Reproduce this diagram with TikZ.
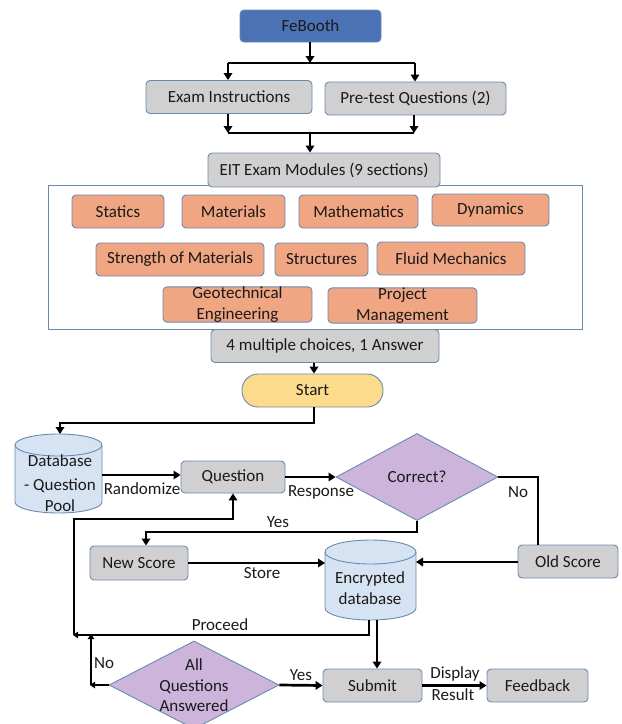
\documentclass[tikz,border=0pt]{standalone}
\usepackage{fontspec}
\setmainfont{Carlito}
\usetikzlibrary{arrows.meta,shapes.geometric,calc}
\definecolor{bordc}{HTML}{6A8AB0}
\definecolor{grayf}{HTML}{D0D0D0}
\definecolor{salmon}{HTML}{F0A583}
\definecolor{blueb}{HTML}{4A72B5}
\definecolor{startf}{HTML}{FDDB8D}
\definecolor{purp}{HTML}{CCB4DA}
\definecolor{dbf}{HTML}{D6E3F3}
\definecolor{txt}{HTML}{1A1A1A}
\tikzset{
  box/.style={draw=bordc,line width=0.9pt,rounded corners=4pt,fill=grayf,text=txt,
    minimum height=33pt,inner sep=0pt,align=center},
  modbox/.style={box,fill=salmon,font=\fontsize{17}{20.5}\selectfont},
  dia/.style={draw=bordc,line width=0.9pt,fill=purp,shape=diamond,inner sep=0pt},
  lbl/.style={inner sep=0pt,text=txt},
  conn/.style={line width=2.7pt,black},
  arr/.style={conn,-{Triangle[length=7pt,width=8.5pt]}},
  sarr/.style={conn,-{Triangle[length=5pt,width=6.5pt]}},
}
\begin{document}
\begin{tikzpicture}[x=1pt,y=1pt,font=\fontsize{17}{19}\selectfont]
\useasboundingbox (0,0) rectangle (622,-724);
% top section
\node[box,fill=blueb,minimum width=141pt,minimum height=32pt] (febooth) at (310.5,-26) {FeBooth};
\node[box,minimum width=166pt] (examins) at (229,-97) {Exam Instructions};
\node[box,minimum width=181pt] (pretest) at (415.5,-98.5) {Pre-test Questions (2)};
\draw[bordc,line width=1pt] (48,-185) rectangle (582,-329);
\node[box,minimum width=232pt,minimum height=34pt] (eit) at (324,-170) {EIT Exam Modules (9 sections)};
\coordinate (s1) at (310,-63);
\coordinate (s1l) at (228,-63);
\coordinate (s1r) at (415,-63);
\draw[arr] (febooth.south -| s1) -- (s1);
\draw[conn] (s1l) -- (s1r);
\draw[arr] (s1l) -- (s1l |- examins.north);
\draw[arr] (s1r) -- (s1r |- pretest.north);
\coordinate (s2) at (310,-133);
\coordinate (s2l) at (228,-133);
\coordinate (s2r) at (414,-133);
\draw[arr] (s2l |- examins.south) -- (s2l);
\draw[arr] (s2r |- pretest.south) -- (s2r);
\draw[conn] (s2l) -- (s2r);
\draw[arr] (s2) -- (s2 |- eit.north);
% modules
\node[modbox,minimum width=92pt] (statics) at (118,-211.5) {Statics};
\node[modbox,minimum width=103pt] (materials) at (233.5,-211.5) {Materials};
\node[modbox,minimum width=119pt] (math) at (358.5,-211.5) {Mathematics};
\node[modbox,minimum width=117pt,minimum height=32pt] (dynamics) at (490.5,-210) {Dynamics};
\node[modbox,minimum width=168pt] (strength) at (180,-259.5) {Strength of Materials};
\node[modbox,minimum width=93pt] (structures) at (321.5,-259.5) {Structures};
\node[modbox,minimum width=148pt] (fluid) at (451,-258.5) {Fluid Mechanics};
\node[modbox,minimum width=149pt] (geo) at (237.5,-304.5) {Geotechnical\\Engineering};
\node[modbox,minimum width=149pt,minimum height=35pt] (project) at (402.5,-305.5) {Project\\Management};
% middle
\node[box,minimum width=228pt] (mc) at (325,-346) {4 multiple choices, 1 Answer};
\node[box,fill=startf,minimum width=141pt,rounded corners=16pt] (start) at (312.5,-390.5) {Start};
\coordinate (st) at (314,-423);
\draw[arr] (st |- mc.south) -- (st |- start.north);
% database cylinder
\node[lbl,minimum width=87pt,minimum height=80pt] (db) at (58.5,-473.5) {};
\fill[dbf] (15,-445) -- (15,-502) arc (180:360:43.5pt and 11pt) -- (102,-445) arc (0:180:43.5pt and 11pt) -- cycle;
\draw[bordc,line width=0.9pt] (15,-445) -- (15,-502) arc (180:360:43.5pt and 11pt) -- (102,-445) arc (0:180:43.5pt and 11pt) -- cycle;
\draw[bordc,line width=0.9pt] (15,-445) arc (180:360:43.5pt and 11pt);
\node[lbl,align=center,font=\fontsize{17}{21}\selectfont] (dbtext) at (60,-483) {Database\\[3pt]- Question\\Pool};
\coordinate (dbtop) at (60,-434);
\coordinate (dbcorner) at (60,-423);
\draw[arr] (start.south -| st) -- (st) -- (dbcorner) -- (dbtop);
\node[box,minimum width=104pt,minimum height=32pt] (question) at (233,-477) {Question};
\coordinate (dbeast) at (102,-475);
\draw[arr] (dbeast) -- (question.west |- dbeast);
\node[lbl] (lrand) at (142,-488.5) {Randomize};
\node[dia,minimum width=162pt,minimum height=87pt] (correct) at (417,-477) {};
\node[lbl] (correcttext) at (417,-477) {Correct?};
\draw[arr] (question.east) -- (correct.west);
\node[lbl] (lresp) at (321,-492) {Response};
\node[box,minimum width=100pt] (oldscore) at (568,-561.5) {Old Score};
\coordinate (nocorner) at (538,-477);
\draw[conn] (correct.east) -- (nocorner) -- (nocorner |- oldscore.north);
\node[lbl] (lno1) at (518,-492) {No};
\node[box,minimum width=98pt,minimum height=34pt] (newscore) at (139,-563) {New Score};
\coordinate (yescorner) at (417,-532);
\coordinate (yesleft) at (146,-532);
\draw[arr] (correct.south) -- (yescorner) -- (yesleft) -- (yesleft |- newscore.north);
\node[lbl] (lyes1) at (278,-522) {Yes};
% encrypted database
\node[lbl,minimum width=91pt,minimum height=81pt] (encdb) at (370,-579.5) {};
\fill[dbf] (325,-552) -- (325,-608) arc (180:360:45.5pt and 12pt) -- (416,-552) arc (0:180:45.5pt and 12pt) -- cycle;
\draw[bordc,line width=0.9pt] (325,-552) -- (325,-608) arc (180:360:45.5pt and 12pt) -- (416,-552) arc (0:180:45.5pt and 12pt) -- cycle;
\draw[bordc,line width=0.9pt] (325,-552) arc (180:360:45.5pt and 12pt);
\node[lbl,align=center,font=\fontsize{17}{21}\selectfont] (enctext) at (370,-588) {Encrypted\\database};
\coordinate (encwest) at (325,-563);
\coordinate (enceast) at (416,-562);
\draw[arr] (newscore.east) -- (encwest);
\node[lbl] (lstore) at (262,-573) {Store};
\draw[arr] (oldscore.west |- enceast) -- (enceast);
% proceed loop
\coordinate (encb1) at (369,-620);
\coordinate (encb2) at (377,-620);
\coordinate (pc) at (369,-635);
\coordinate (pl) at (73,-635);
\coordinate (ql) at (74,-635);
\coordinate (qlt) at (74,-519);
\coordinate (qrt) at (233,-519);
\draw[sarr] (encb1) -- (pc) -- (pl);
\draw[arr] (ql) -- (qlt) -- (qrt) -- (question.south);
\node[lbl] (lproceed) at (220,-625) {Proceed};
% bottom
\node[dia,minimum width=170pt,minimum height=88pt] (allq) at (194,-685) {};
\node[lbl,align=center,font=\fontsize{17}{20.5}\selectfont] (allqtext) at (194,-685.5) {All\\Questions\\Answered};
\node[box,minimum width=99pt] (submit) at (372.5,-685.5) {Submit};
\node[box,minimum width=101pt] (feedback) at (537.5,-685.5) {Feedback};
\draw[arr] (encb2) -- (encb2 |- submit.north);
\coordinate (nol) at (90,-685);
\coordinate (nob) at (91,-685);
\coordinate (not) at (91,-634);
\draw[sarr] (allq.west) -- (nol);
\draw[sarr] (nob) -- (not);
\node[lbl] (lno2) at (104,-663) {No};
\draw[arr] (allq.east) -- (submit.west);
\node[lbl] (lyes2) at (301,-675) {Yes};
\draw[arr] (submit.east) -- (feedback.west);
\node[lbl] (ldisp) at (455,-674) {Display};
\node[lbl] (lres) at (453,-695) {Result};
\end{tikzpicture}
\end{document}
